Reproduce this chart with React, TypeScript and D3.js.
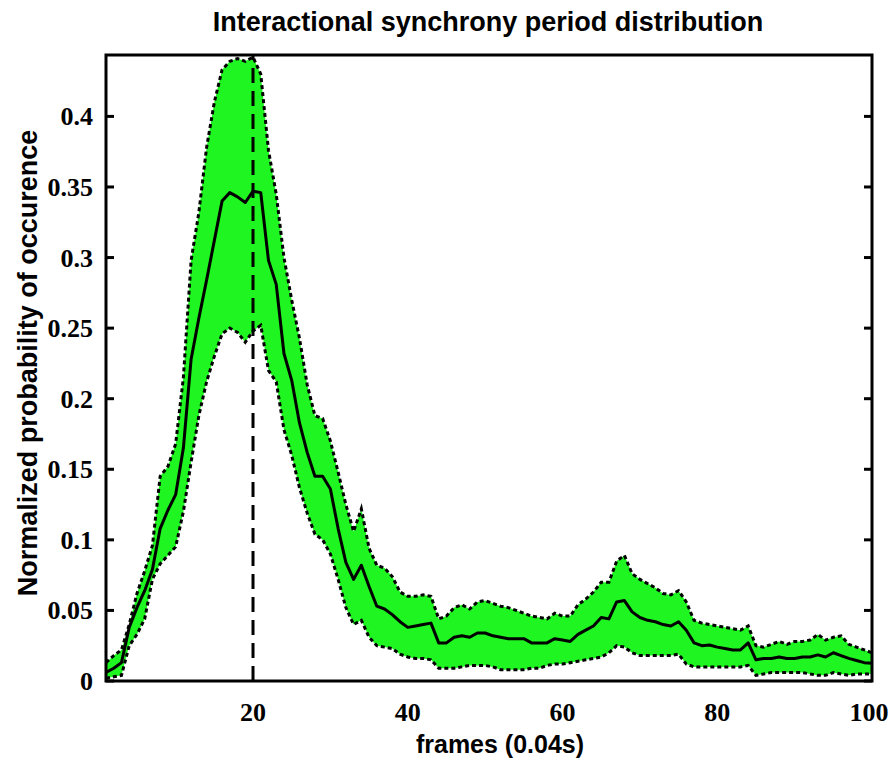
import React from "react";
import * as d3 from "d3";

const frames: number[] = Array.from({ length: 100 }, (_, i) => i + 1);

const meanValues: number[] = [
  0.006, 0.009, 0.013, 0.038, 0.052, 0.064, 0.079, 0.108, 0.121, 0.132,
  0.165, 0.228, 0.257, 0.284, 0.312, 0.340, 0.346, 0.343, 0.339, 0.347,
  0.346, 0.298, 0.281, 0.232, 0.213, 0.183, 0.162, 0.145, 0.145, 0.136,
  0.108, 0.084, 0.072, 0.082, 0.067, 0.053, 0.051, 0.047, 0.042, 0.038,
  0.039, 0.040, 0.041, 0.027, 0.027, 0.031, 0.032, 0.031, 0.034, 0.034,
  0.032, 0.031, 0.030, 0.030, 0.030, 0.027, 0.027, 0.027, 0.030, 0.029,
  0.028, 0.033, 0.036, 0.039, 0.045, 0.044, 0.056, 0.057, 0.049, 0.045,
  0.043, 0.042, 0.040, 0.039, 0.042, 0.036, 0.027, 0.025, 0.0255, 0.024,
  0.023, 0.022, 0.022, 0.027, 0.015, 0.016, 0.016, 0.017, 0.016, 0.016,
  0.017, 0.017, 0.0185, 0.017, 0.020, 0.018, 0.016, 0.0145, 0.013, 0.0125,
];

const upperValues: number[] = [
  0.013, 0.018, 0.022, 0.040, 0.062, 0.078, 0.096, 0.145, 0.152, 0.168,
  0.215, 0.298, 0.332, 0.378, 0.410, 0.433, 0.439, 0.441, 0.439, 0.442,
  0.430, 0.376, 0.345, 0.300, 0.270, 0.243, 0.210, 0.188, 0.186, 0.170,
  0.148, 0.125, 0.106, 0.122, 0.094, 0.082, 0.080, 0.074, 0.063, 0.060,
  0.060, 0.061, 0.060, 0.044, 0.046, 0.052, 0.054, 0.051, 0.056, 0.057,
  0.055, 0.053, 0.052, 0.050, 0.048, 0.046, 0.045, 0.044, 0.048, 0.046,
  0.046, 0.054, 0.058, 0.063, 0.070, 0.070, 0.085, 0.089, 0.076, 0.072,
  0.069, 0.066, 0.062, 0.061, 0.064, 0.056, 0.043, 0.041, 0.040, 0.039,
  0.038, 0.037, 0.036, 0.039, 0.025, 0.024, 0.026, 0.028, 0.026, 0.028,
  0.028, 0.029, 0.033, 0.029, 0.031, 0.032, 0.026, 0.024, 0.022, 0.020,
];

const lowerValues: number[] = [
  0.002, 0.003, 0.004, 0.025, 0.033, 0.044, 0.072, 0.083, 0.089, 0.095,
  0.120, 0.155, 0.188, 0.212, 0.230, 0.246, 0.250, 0.247, 0.240, 0.248,
  0.252, 0.220, 0.212, 0.178, 0.160, 0.137, 0.119, 0.104, 0.100, 0.090,
  0.072, 0.052, 0.040, 0.043, 0.031, 0.025, 0.024, 0.023, 0.019, 0.017,
  0.016, 0.016, 0.015, 0.009, 0.009, 0.009, 0.010, 0.011, 0.011, 0.011,
  0.010, 0.008, 0.008, 0.008, 0.008, 0.009, 0.009, 0.011, 0.012, 0.012,
  0.013, 0.014, 0.015, 0.016, 0.017, 0.020, 0.025, 0.024, 0.020, 0.018,
  0.018, 0.018, 0.018, 0.018, 0.019, 0.012, 0.010, 0.010, 0.010, 0.010,
  0.010, 0.010, 0.010, 0.011, 0.004, 0.005, 0.006, 0.006, 0.006, 0.006,
  0.006, 0.005, 0.004, 0.004, 0.006, 0.005, 0.004, 0.005, 0.005, 0.005,
];

const xTicks: number[] = [20, 40, 60, 80, 100];
const yTicks: number[] = [0, 0.05, 0.1, 0.15, 0.2, 0.25, 0.3, 0.35, 0.4];
const yTickLabels: string[] = ["0", "0.05", "0.1", "0.15", "0.2", "0.25", "0.3", "0.35", "0.4"];
const peakFrame = 20;

const W = 894;
const H = 762;
const left = 106;
const right = 872;
const top = 55;
const bottom = 681;

export default function App() {
  const x = d3.scaleLinear().domain([1, 100]).range([left, right]);
  const y = d3.scaleLinear().domain([0, 0.4435]).range([bottom, top]);

  const pts = frames.map((f, i) => ({ f, m: meanValues[i], u: upperValues[i], l: lowerValues[i] }));
  const area = d3
    .area<any>()
    .x((d) => x(d.f))
    .y0((d) => y(d.l))
    .y1((d) => y(d.u));
  const lineM = d3.line<any>().x((d) => x(d.f)).y((d) => y(d.m));
  const lineU = d3.line<any>().x((d) => x(d.f)).y((d) => y(d.u));
  const lineL = d3.line<any>().x((d) => x(d.f)).y((d) => y(d.l));

  const sans = "'Liberation Sans', Arial, Helvetica, sans-serif";
  const serif = "'Liberation Serif', 'Times New Roman', serif";

  return (
    <svg width={W} height={H} style={{ position: "absolute", left: 0, top: 0, background: "#fff" }}>
      <rect x={0} y={0} width={W} height={H} fill="#fff" />
      <defs>
        <clipPath id="plotclip">
          <rect x={left} y={top} width={right - left} height={bottom - top} />
        </clipPath>
      </defs>
      <g clipPath="url(#plotclip)">
        <path d={area(pts) || ""} fill="#1ff521" stroke="none" />
        <path d={lineU(pts) || ""} fill="none" stroke="#000" strokeWidth={3} strokeDasharray="4,3" />
        <path d={lineL(pts) || ""} fill="none" stroke="#000" strokeWidth={3} strokeDasharray="4,3" />
        <path d={lineM(pts) || ""} fill="none" stroke="#000" strokeWidth={3} strokeLinejoin="round" />
        <line
          x1={x(peakFrame)}
          x2={x(peakFrame)}
          y1={bottom}
          y2={top}
          stroke="#000"
          strokeWidth={3}
          strokeDasharray="15,8"
        />
      </g>
      <rect x={left} y={top} width={right - left} height={bottom - top} fill="none" stroke="#000" strokeWidth={3} />
      {yTicks.map((t, i) => (
        <g key={"yt" + i}>
          <line x1={left} x2={left + 8} y1={y(t)} y2={y(t)} stroke="#000" strokeWidth={3} />
          <line x1={right} x2={right - 8} y1={y(t)} y2={y(t)} stroke="#000" strokeWidth={3} />
          <text
            x={93}
            y={y(t) + 9}
            textAnchor="end"
            fontFamily={serif}
            fontWeight="bold"
            fontSize={26}
            fill="#000"
          >
            {yTickLabels[i]}
          </text>
        </g>
      ))}
      {xTicks.map((t, i) => (
        <text
          key={"xt" + i}
          x={x(t) - (t === 100 ? 3 : 0)}
          y={721}
          textAnchor="middle"
          fontFamily={serif}
          fontWeight="bold"
          fontSize={26}
          fill="#000"
        >
          {t}
        </text>
      ))}
      <text x={488} y={31} textAnchor="middle" fontFamily={sans} fontWeight="bold" fontSize={27} fill="#000">
        Interactional synchrony period distribution
      </text>
      <text x={500} y={753} textAnchor="middle" fontFamily={sans} fontWeight="bold" fontSize={25} fill="#000">
        frames (0.04s)
      </text>
      <text
        transform={`translate(37, ${363}) rotate(-90)`}
        textAnchor="middle"
        fontFamily={sans}
        fontWeight="bold"
        fontSize={27}
        fill="#000"
      >
        Normalized probability of occurence
      </text>
    </svg>
  );
}
